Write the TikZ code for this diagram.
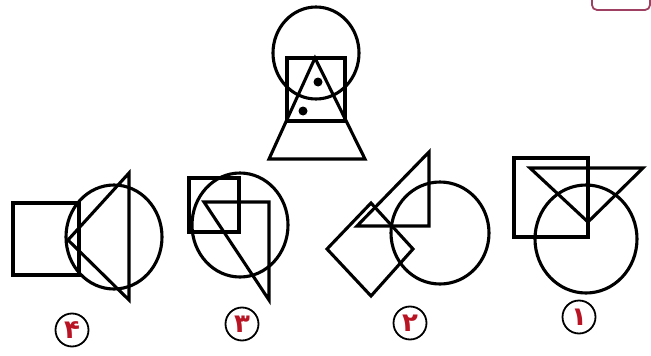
\documentclass[tikz,border=0pt]{standalone}
\usepackage{fontspec}
\newfontfamily\arabicfont[Script=Arabic]{DejaVu Sans}
\definecolor{numred}{rgb}{0.72,0.08,0.14}
\definecolor{boxpink}{rgb}{0.62,0.25,0.38}
\begin{document}
\begin{tikzpicture}[x=1pt, y=-1pt,
  fig/.style={line width=3.1pt, line join=miter},
  opt/.style={circle, draw, line width=1.8pt, minimum size=33pt, inner sep=0pt,
    text=numred, font=\arabicfont\fontsize{26}{26}\selectfont\bfseries}]
\useasboundingbox (0,0) rectangle (651,356);

% angolo del riquadro in alto
\draw[boxpink, line width=1.8pt, rounded corners=5pt] (592,-14) rectangle (650,10);

% figura del quesito
\draw[fig] (316,53) ellipse [x radius=43, y radius=46];
\draw[fig] (287,58) rectangle (345,121);
\draw[fig] (315,58) -- (365,159) -- (269,159) -- cycle;
\fill (318,82) circle (4.5);
\fill (303,111) circle (4.5);

% opzione 4
\draw[fig] (13,203) rectangle (79,275);
\draw[fig] (114,237) ellipse [x radius=48, y radius=52];
\draw[fig] (68,240) -- (129,173) -- (129,300) -- cycle;

% opzione 3
\draw[fig] (189,178) rectangle (239,232);
\draw[fig] (240,225) ellipse [x radius=48, y radius=52];
\draw[fig] (204,202) -- (269,202) -- (269,300) -- cycle;

% opzione 2
\draw[fig] (357,226) -- (429,152) -- (429,226) -- cycle;
\draw[fig] (440,233) ellipse [x radius=49, y radius=51];
\draw[fig] (371,203) -- (413,249) -- (371,296) -- (327,249) -- cycle;

% opzione 1
\draw[fig] (514,158) rectangle (588,237);
\draw[fig] (530,168) -- (643,168) -- (588,222) -- cycle;
\draw[fig] (586,239) ellipse [x radius=51, y radius=54];

% numeri delle opzioni
\node[opt] (n4) at (72,330) {۴};
\node[opt] (n3) at (242,324) {۳};
\node[opt] (n2) at (410,323) {۲};
\node[opt] (n1) at (579,317) {۱};

\end{tikzpicture}
\end{document}
